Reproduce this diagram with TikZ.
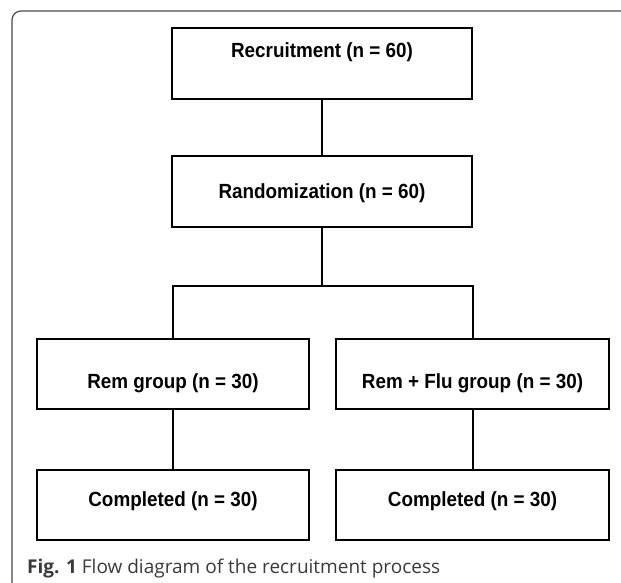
\documentclass[tikz,border=0pt]{standalone}
\usepackage{fontspec}
\setmainfont{Liberation Sans}
\newfontfamily\boxfont[FakeStretch=0.92]{Liberation Sans}
\newfontfamily\capfont{Open Sans}
\definecolor{framegray}{HTML}{4A4A4A}
\definecolor{capgray}{HTML}{3A3A3A}
\begin{document}
\begin{tikzpicture}[x=1pt,y=-1pt,
  box/.style={draw=black, line width=2pt, inner sep=0pt, minimum height=71pt},
  boxtxt/.style={font=\boxfont\fontsize{20.5}{22}\selectfont\bfseries, text=black, inner sep=0pt},
  link/.style={draw=black, line width=2pt}]
\useasboundingbox (0,0) rectangle (621,583);
\begin{scope}
\clip (0,0) rectangle (621,583);
\draw[framegray, line width=1.2pt, rounded corners=9pt] (12,590) -- (12,11) -- (640,11);
\end{scope}

\node[box, minimum width=300pt] (rec) at (322,63.5) {};
\node[boxtxt] (rectxt) at (322,52.5) {Recruitment (n = 60)};
\node[box, minimum width=300pt] (rand) at (322,191.5) {};
\node[boxtxt] (randtxt) at (322,193.5) {Randomization (n = 60)};
\node[box, minimum width=272pt, minimum height=70pt] (rem) at (173,374) {};
\node[boxtxt] (remtxt) at (173,383) {Rem group (n = 30)};
\node[box, minimum width=273pt, minimum height=70pt] (flu) at (472.5,374) {};
\node[boxtxt] (flutxt) at (472.5,383) {Rem + Flu group (n = 30)};
\node[box, minimum width=272pt, minimum height=70pt] (c1) at (173,505) {};
\node[boxtxt] (c1txt) at (173,501.5) {Completed (n = 30)};
\node[box, minimum width=273pt, minimum height=70pt] (c2) at (472.5,505) {};
\node[boxtxt] (c2txt) at (472.5,501.5) {Completed (n = 30)};

\coordinate (split) at (322,286);
\draw[link] (rec.south) -- (rand.north);
\draw[link] (rand.south) -- (split);
\draw[link] (rem.north) |- (split) -| (flu.north);
\draw[link] (rem.south) -- (c1.north);
\draw[link] (flu.south) -- (c2.north);

\node[anchor=base west, inner sep=0pt, text=capgray, font=\capfont\fontsize{19}{21}\selectfont] (cap) at (27,573)
  {\textbf{Fig. 1} Flow diagram of the recruitment process};
\end{tikzpicture}
\end{document}
